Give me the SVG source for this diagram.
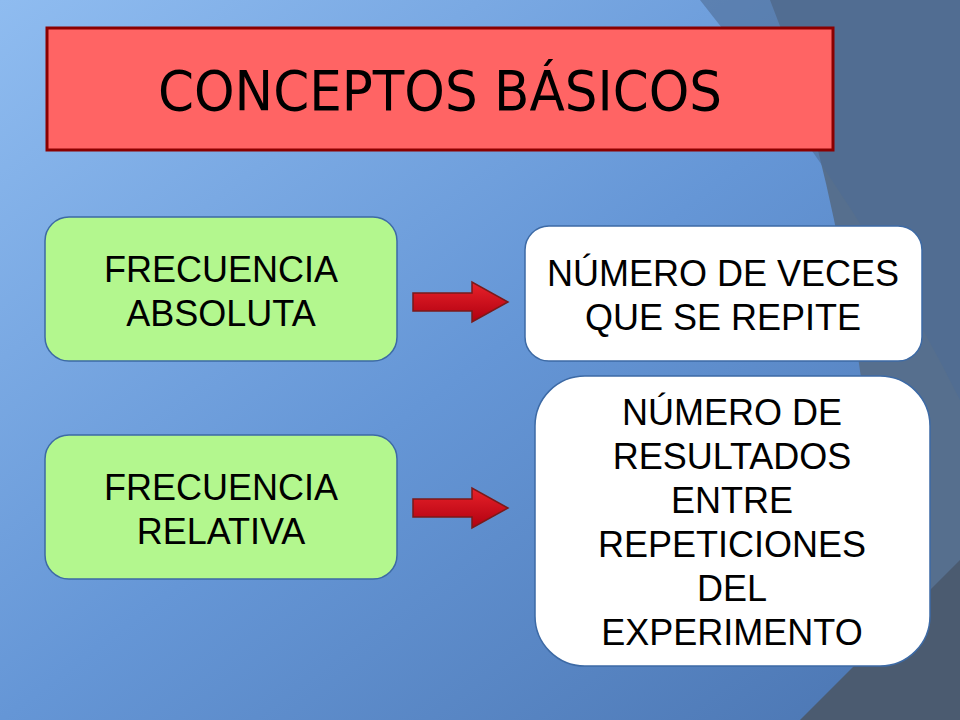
<svg xmlns="http://www.w3.org/2000/svg" width="960" height="720" viewBox="0 0 960 720">
<defs>
<linearGradient id="bg" x1="0" y1="0" x2="1" y2="1">
<stop offset="0" stop-color="#8fbcf0"/><stop offset="0.5" stop-color="#6596d6"/><stop offset="1" stop-color="#4a74b0"/>
</linearGradient>
<linearGradient id="arr" x1="0" y1="0" x2="0" y2="1">
<stop offset="0" stop-color="#e8222a"/><stop offset="1" stop-color="#b00010"/>
</linearGradient>
<style>
.g{fill:#b3f78e;stroke:#3d6aa5;stroke-width:1.5}
.w{fill:#fff;stroke:#3d6aa5;stroke-width:1.5}
.t{font-family:"Liberation Sans",Arial,sans-serif;font-size:36px;fill:#000;text-anchor:middle}
.a{fill:url(#arr);stroke:#7a1a1a;stroke-width:1.5}
</style>
</defs>
<rect width="960" height="720" fill="url(#bg)"/>
<path d="M770 0 Q870 250 890 720 L960 720 L960 0 Z" fill="#566f8e"/>
<path d="M700 0 L960 0 L960 400 Q860 200 700 0Z" fill="#4f6c94" opacity="0.6"/>
<path d="M800 720 Q900 620 960 560 L960 720 Z" fill="#4b5b70"/>
<g id="title">
<rect x="47" y="28" width="786" height="122" fill="#ff6464" stroke="#8b0000" stroke-width="3"/>
<text x="440" y="110" font-family="DejaVu Sans Condensed,DejaVu Sans,sans-serif" font-size="56" text-anchor="middle" textLength="564" lengthAdjust="spacingAndGlyphs">CONCEPTOS BÁSICOS</text>
</g>
<g id="fa">
<rect class="g" x="45" y="217" width="352" height="144" rx="24"/>
<text class="t" x="221" y="282">FRECUENCIA</text><text class="t" x="221" y="326">ABSOLUTA</text>
</g>
<g id="fr">
<rect class="g" x="45" y="435" width="352" height="144" rx="24"/>
<text class="t" x="221" y="500">FRECUENCIA</text><text class="t" x="221" y="544">RELATIVA</text>
</g>
<g id="d1">
<rect class="w" x="525" y="226" width="397" height="135" rx="24"/>
<text class="t" x="723" y="286">NÚMERO DE VECES</text><text class="t" x="723" y="330">QUE SE REPITE</text>
</g>
<g id="d2">
<rect class="w" x="535" y="376" width="395" height="290" rx="50"/>
<text class="t" x="732" y="425">NÚMERO DE</text><text class="t" x="732" y="469">RESULTADOS</text><text class="t" x="732" y="513">ENTRE</text><text class="t" x="732" y="557">REPETICIONES</text><text class="t" x="732" y="601">DEL</text><text class="t" x="732" y="645">EXPERIMENTO</text>
</g>
<g id="connectors">
<path class="a" d="M413 293 H472 V282 L508 302 L472 322 V311 H413 Z"/>
<path class="a" d="M413 499 H472 V488 L508 508 L472 528 V517 H413 Z"/>
</g>
</svg>
